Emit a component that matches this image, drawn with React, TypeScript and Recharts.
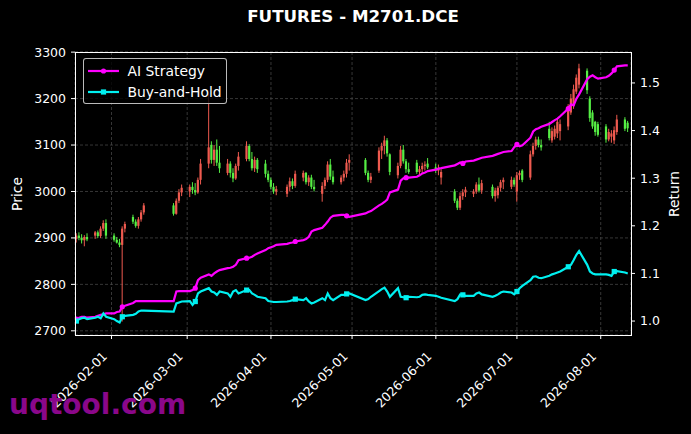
import {
  Bar,
  CartesianGrid,
  ComposedChart,
  Legend,
  Line,
  XAxis,
  YAxis,
} from 'recharts';

// trading days shown on the chart (2026)
const DATES = [
  '01-19', '01-20', '01-21', '01-22', '01-23', '01-26', '01-27', '01-28', '01-29', '01-30',
  '02-02', '02-03', '02-04', '02-05', '02-06', '02-09', '02-10', '02-11', '02-12', '02-13',
  '02-24', '02-25', '02-26', '02-27',
  '03-02', '03-03', '03-04', '03-05', '03-06', '03-09', '03-10', '03-11', '03-12', '03-13',
  '03-16', '03-17', '03-18', '03-19', '03-20', '03-23', '03-24', '03-25', '03-26', '03-27',
  '03-30', '03-31',
  '04-01', '04-02', '04-03', '04-07', '04-08', '04-09', '04-10', '04-13', '04-14', '04-15',
  '04-16', '04-17', '04-20', '04-21', '04-22', '04-23', '04-24', '04-27', '04-28', '04-29', '04-30',
  '05-06', '05-07', '05-08', '05-11', '05-12', '05-13', '05-14', '05-15', '05-18', '05-19',
  '05-20', '05-21', '05-22', '05-25', '05-26', '05-27', '05-28', '05-29',
  '06-01', '06-02', '06-03', '06-08', '06-09', '06-10', '06-11', '06-12', '06-15', '06-16',
  '06-17', '06-18', '06-22', '06-23', '06-24', '06-25', '06-26', '06-29', '06-30',
  '07-01', '07-02', '07-03', '07-06', '07-07', '07-08', '07-09', '07-10', '07-13', '07-14',
  '07-15', '07-16', '07-17', '07-20', '07-21', '07-22', '07-23', '07-24', '07-27', '07-28',
  '07-29', '07-30', '07-31',
  '08-03', '08-04', '08-05', '08-06', '08-07', '08-10', '08-11',
];

const OPEN = [
  2898, 2905, 2900, 2895, 2902, 2905, 2912, 2904, 2920, 2932,
  2905, 2896, 2890, 2885, 2920, 2945, 2935, 2926, 2940, 2955,
  2970, 2952, 2980, 2998,
  3000, 3010, 3003, 2998, 3025, 3060, 3100, 3068, 3090, 3062,
  3040, 3060, 3040, 3028, 3055, 3070, 3098, 3070, 3050, 3068,
  3060, 3038,
  3025, 3010, 3000, 2995, 3010, 3022, 3012, 3030, 3040, 3020,
  3030, 3010, 2995, 3012, 3025, 3058, 3032, 3020, 3030, 3038, 3062,
  3068, 3040, 3025, 3045, 3088, 3098, 3110, 3080, 3035, 3055,
  3090, 3065, 3048, 3062, 3042, 3048, 3055, 3060,
  3052, 3045, 3030, 3000, 2980, 2965, 2990, 2998, 2995, 3000,
  3015, 3002, 3010, 2990, 2992, 3008, 3020, 3010, 3025,
  3000, 3035, 3045, 3030, 3080, 3098, 3112, 3100, 3135, 3110,
  3118, 3125, 3130, 3140, 3170, 3185, 3215, 3230, 3260, 3200,
  3170, 3150, 3145,
  3140, 3112, 3118, 3110, 3128, 3155, 3148,
];

const HIGH = [
  2910, 2912, 2908, 2906, 2910, 2915, 2916, 2925, 2938, 2940,
  2910, 2902, 2898, 2925, 2935, 2950, 2940, 2945, 2960, 2975,
  2975, 2985, 3005, 3015,
  3015, 3020, 3018, 3030, 3070, 3210, 3108, 3100, 3112, 3098,
  3070, 3065, 3050, 3060, 3085, 3108, 3102, 3085, 3075, 3072,
  3068, 3045,
  3030, 3018, 3012, 3015, 3030, 3028, 3045, 3045, 3042, 3035,
  3036, 3025, 3020, 3030, 3065, 3070, 3045, 3035, 3045, 3070, 3080,
  3072, 3045, 3040, 3095, 3105, 3120, 3115, 3082, 3062, 3098,
  3100, 3070, 3062, 3068, 3055, 3062, 3065, 3072,
  3060, 3058, 3048, 3005, 2985, 2998, 3005, 3010, 3005, 3020,
  3030, 3025, 3015, 3008, 3012, 3025, 3030, 3032, 3030,
  3042, 3045, 3048, 3088, 3105, 3118, 3118, 3112, 3150, 3138,
  3142, 3158, 3155, 3188, 3210, 3230, 3252, 3275, 3265, 3205,
  3175, 3152, 3150,
  3145, 3135, 3132, 3140, 3165, 3160, 3152,
];

const LOW = [
  2890, 2895, 2888, 2882, 2893, 2898, 2900, 2900, 2915, 2898,
  2892, 2888, 2880, 2720, 2912, 2930, 2922, 2920, 2935, 2950,
  2948, 2950, 2975, 2990,
  2988, 2995, 2992, 2995, 3015, 3050, 3060, 3055, 3055, 3040,
  3035, 3030, 3020, 3025, 3045, 3065, 3065, 3045, 3042, 3040,
  3030, 3020,
  3005, 2995, 2992, 2988, 3000, 3005, 3008, 3022, 3015, 3012,
  3005, 3000, 2978, 3005, 3020, 3025, 3015, 3015, 3022, 3030, 3045,
  3035, 3020, 3018, 3040, 3070, 3080, 3075, 3035, 3028, 3050,
  3060, 3040, 3038, 3038, 3035, 3040, 3045, 3048,
  3040, 3035, 3015, 2975, 2960, 2960, 2982, 2988, 2988, 2995,
  2998, 2995, 2985, 2978, 2985, 3000, 3005, 3005, 3010,
  2978, 3025, 3020, 3025, 3075, 3090, 3095, 3088, 3110, 3105,
  3112, 3115, 3110, 3132, 3165, 3178, 3210, 3222, 3210, 3150,
  3135, 3120, 3118,
  3105, 3108, 3105, 3102, 3122, 3130, 3128,
];

const CLOSE = [
  2905, 2900, 2895, 2902, 2897, 2912, 2904, 2920, 2932, 2905,
  2896, 2890, 2885, 2920, 2930, 2935, 2926, 2940, 2955, 2970,
  2952, 2980, 2998, 3008,
  3010, 3003, 2998, 3025, 3060, 3095, 3068, 3090, 3062, 3050,
  3060, 3040, 3028, 3055, 3075, 3098, 3070, 3050, 3068, 3048,
  3038, 3025,
  3010, 3000, 3005, 3010, 3022, 3012, 3038, 3040, 3020, 3030,
  3010, 3005, 3012, 3025, 3058, 3032, 3020, 3030, 3038, 3062, 3068,
  3040, 3025, 3032, 3088, 3098, 3110, 3082, 3042, 3055, 3090,
  3065, 3048, 3042, 3042, 3048, 3055, 3058, 3052,
  3045, 3050, 3042, 2980, 2965, 2990, 2998, 3004, 3000, 3015,
  3002, 3018, 2990, 3002, 3008, 3020, 3025, 3025, 3015,
  3035, 3040, 3025, 3080, 3098, 3112, 3100, 3095, 3115, 3130,
  3135, 3150, 3145, 3180, 3200, 3220, 3245, 3265, 3218, 3158,
  3140, 3128, 3122,
  3112, 3128, 3125, 3132, 3155, 3135, 3136,
];

const AI_STRATEGY = [
  1.004, 1.007, 1.009, 1.009, 1.007, 1.009, 1.011, 1.013, 1.014, 1.016,
  1.016, 1.019, 1.020, 1.030, 1.032, 1.038, 1.042, 1.042, 1.042, 1.042,
  1.042, 1.062, 1.063, 1.063,
  1.063, 1.065, 1.069, 1.086, 1.091, 1.098, 1.095, 1.100, 1.104, 1.107,
  1.111, 1.112, 1.114, 1.118, 1.128, 1.132, 1.133, 1.135, 1.139, 1.142,
  1.149, 1.153,
  1.155, 1.157, 1.160, 1.162, 1.164, 1.165, 1.167, 1.170, 1.172, 1.177,
  1.188, 1.191, 1.196, 1.202, 1.209, 1.217, 1.221, 1.223, 1.223, 1.221, 1.219,
  1.226, 1.229, 1.231, 1.243, 1.246, 1.250, 1.255, 1.270, 1.276, 1.295,
  1.300, 1.301, 1.301, 1.303, 1.306, 1.310, 1.312, 1.315,
  1.318, 1.320, 1.321, 1.327, 1.330, 1.333, 1.331, 1.335, 1.337, 1.339,
  1.341, 1.343, 1.347, 1.349, 1.351, 1.353, 1.355, 1.357, 1.365,
  1.371, 1.367, 1.369, 1.385, 1.398, 1.403, 1.405, 1.408, 1.414, 1.418,
  1.422, 1.425, 1.430, 1.446, 1.455, 1.453, 1.467, 1.476, 1.508, 1.513,
  1.516, 1.512, 1.509,
  1.512, 1.515, 1.520, 1.527, 1.535, 1.537, 1.537,
];

const BUY_AND_HOLD = [
  1.000, 1.004, 1.006, 1.007, 1.004, 1.007, 1.009, 1.006, 1.016, 1.009,
  1.004, 1.000, 0.997, 1.009, 1.011, 1.013, 1.015, 1.020, 1.022, 1.022,
  1.020, 1.037, 1.039, 1.041,
  1.042, 1.034, 1.041, 1.058, 1.062, 1.069, 1.062, 1.060, 1.055, 1.062,
  1.058, 1.051, 1.062, 1.065, 1.058, 1.065, 1.065, 1.058, 1.055, 1.051,
  1.048, 1.042,
  1.041, 1.040, 1.040, 1.041, 1.042, 1.044, 1.046, 1.044, 1.048, 1.041,
  1.037, 1.039, 1.048, 1.044, 1.058, 1.048, 1.044, 1.055, 1.055, 1.057, 1.058,
  1.044, 1.046, 1.051, 1.063, 1.067, 1.070, 1.062, 1.051, 1.069, 1.051,
  1.050, 1.049, 1.051, 1.050, 1.051, 1.055, 1.056, 1.055,
  1.053, 1.051, 1.049, 1.042, 1.046, 1.056, 1.055, 1.053, 1.053, 1.058,
  1.060, 1.056, 1.051, 1.053, 1.056, 1.060, 1.062, 1.060, 1.056,
  1.062, 1.069, 1.074, 1.086, 1.093, 1.094, 1.091, 1.090, 1.095, 1.098,
  1.100, 1.102, 1.104, 1.114, 1.118, 1.128, 1.139, 1.147, 1.118, 1.104,
  1.100, 1.098, 1.098,
  1.098, 1.097, 1.095, 1.104, 1.105, 1.102, 1.100,
];

const X_TICK_LABELS = ['2026-02-01', '2026-03-01', '2026-04-01', '2026-05-01', '2026-06-01', '2026-07-01', '2026-08-01'];
const PRICE_TICKS = [2700, 2800, 2900, 3000, 3100, 3200, 3300];
const RETURN_TICKS = [1.0, 1.1, 1.2, 1.3, 1.4, 1.5];

const RED = '#ee5a4f';
const GREEN = '#55ee44';
const MAGENTA = '#ff00ff';
const CYAN = '#00f0f0';
const FONT = '"DejaVu Sans", Verdana, sans-serif';
const MARK_EVERY = 13;

// days since 2026-01-01, used as the numeric x value
const dayOfYear = (iso: string) =>
  (Date.parse(`${iso}T00:00:00Z`) - Date.parse('2026-01-01T00:00:00Z')) / 86400000;

const data = DATES.map((d, i) => ({
  t: dayOfYear(`2026-${d}`),
  open: OPEN[i],
  high: HIGH[i],
  low: LOW[i],
  close: CLOSE[i],
  ai: AI_STRATEGY[i],
  bh: BUY_AND_HOLD[i],
}));

const xTicks = X_TICK_LABELS.map(dayOfYear);
const tickLabelOf = (v: number) => X_TICK_LABELS[xTicks.indexOf(v)] ?? '';

function Candle(props: any) {
  const { x, y, width, height, payload } = props;
  if (x == null || payload == null) return null;
  const { open, high, low, close } = payload;
  const top = Math.min(y, y + height);
  const h = Math.abs(height);
  const cx = x + width / 2;
  const span = high - low || 1;
  const py = (v: number) => top + ((high - v) / span) * h;
  const color = close >= open ? RED : GREEN;
  const b0 = py(Math.max(open, close));
  const b1 = py(Math.min(open, close));
  return (
    <g>
      <line x1={cx} x2={cx} y1={top} y2={top + h} stroke={color} strokeWidth={1} />
      <rect x={cx - 1.1} y={b0} width={2.2} height={Math.max(b1 - b0, 0.8)} fill={color} />
    </g>
  );
}

const makeDot = (shape: 'circle' | 'square', color: string) => (p: any) => {
  const { cx, cy, index } = p;
  if (cx == null || cy == null || index % MARK_EVERY !== 0) return <g key={`d-${index}`} />;
  if (shape === 'circle') return <circle key={`d-${index}`} cx={cx} cy={cy} r={2.6} fill={color} />;
  return <rect key={`d-${index}`} x={cx - 2.6} y={cy - 2.6} width={5.2} height={5.2} fill={color} />;
};

function DateTick({ x, y, payload }: any) {
  return (
    <g transform={`translate(${x - 3.5},${y + 16})`}>
      <text textAnchor="end" transform="rotate(-45)" fill="#fff" fontSize={12.5} fontFamily={FONT}>
        {tickLabelOf(payload.value)}
      </text>
    </g>
  );
}

function LegendBox() {
  const items = [
    { label: 'AI Strategy', color: MAGENTA, shape: 'circle' },
    { label: 'Buy-and-Hold', color: CYAN, shape: 'square' },
  ];
  return (
    <div
      style={{
        width: 144,
        height: 46,
        boxSizing: 'border-box',
        border: '1px solid rgba(220,220,220,0.85)',
        borderRadius: 3,
        background: 'rgba(0,0,0,0.8)',
        padding: '2px 0 0 4px',
      }}
    >
      {items.map((it) => (
        <div key={it.label} style={{ display: 'flex', alignItems: 'center', height: 20.5 }}>
          <svg width={36} height={10}>
            <line x1={0} x2={31} y1={5} y2={5} stroke={it.color} strokeWidth={2.2} />
            {it.shape === 'circle' ? (
              <circle cx={15.5} cy={5} r={2.6} fill={it.color} />
            ) : (
              <rect x={12.9} y={2.4} width={5.2} height={5.2} fill={it.color} />
            )}
          </svg>
          <span style={{ color: '#fff', fontSize: 13.9, fontFamily: FONT, marginLeft: 4 }}>{it.label}</span>
        </div>
      ))}
    </div>
  );
}

export default function App() {
  return (
    <div style={{ position: 'fixed', left: 0, top: 0, width: 691, height: 434, background: '#000', overflow: 'hidden' }}>
      <div
        style={{
          position: 'absolute',
          left: 75,
          width: 556,
          top: 6,
          textAlign: 'center',
          color: '#fff',
          fontFamily: FONT,
          fontWeight: 'bold',
          fontSize: 16.7,
        }}
      >
        FUTURES - M2701.DCE
      </div>

      <ComposedChart width={691} height={434} data={data} margin={{ top: 52, right: 0, bottom: 0, left: 0 }}>
        <CartesianGrid yAxisId="left" stroke="#4d4d4d" strokeDasharray="3 2" strokeWidth={0.7} />
        <XAxis
          dataKey="t"
          type="number"
          domain={[17.5, 223.2]}
          allowDataOverflow
          ticks={xTicks}
          height={99}
          axisLine={false}
          tickLine={{ stroke: '#fff' }}
          tickSize={4}
          tick={<DateTick />}
          interval={0}
        />
        <YAxis
          yAxisId="left"
          domain={[2691, 3300.3]}
          allowDataOverflow
          ticks={PRICE_TICKS}
          width={75}
          axisLine={false}
          tickLine={{ stroke: '#fff' }}
          tickSize={4}
          tickMargin={5}
          tick={{ fill: '#fff', fontSize: 12.5, fontFamily: FONT }}
          interval={0}
        />
        <YAxis
          yAxisId="right"
          orientation="right"
          domain={[0.9707, 1.565]}
          allowDataOverflow
          ticks={RETURN_TICKS}
          tickFormatter={(v: number) => v.toFixed(1)}
          width={60}
          axisLine={false}
          tickLine={{ stroke: '#fff' }}
          tickSize={4}
          tickMargin={5}
          tick={{ fill: '#fff', fontSize: 12.5, fontFamily: FONT }}
          interval={0}
        />
        <Bar
          yAxisId="left"
          dataKey={(d: any) => [d.low, d.high]}
          barSize={3}
          shape={<Candle />}
          isAnimationActive={false}
        />
        <Line
          yAxisId="right"
          dataKey="ai"
          stroke={MAGENTA}
          strokeWidth={2.2}
          dot={makeDot('circle', MAGENTA)}
          activeDot={false}
          isAnimationActive={false}
        />
        <Line
          yAxisId="right"
          dataKey="bh"
          stroke={CYAN}
          strokeWidth={2.2}
          dot={makeDot('square', CYAN)}
          activeDot={false}
          isAnimationActive={false}
        />
        {/* horizontal + middle + center: the legend takes no room from the plot */}
        <Legend
          layout="horizontal"
          verticalAlign="middle"
          align="center"
          content={<LegendBox />}
          wrapperStyle={{ position: 'absolute', left: 82.5, top: 58, width: 144, height: 46 }}
        />
      </ComposedChart>

      {/* plot frame */}
      <div
        style={{
          position: 'absolute',
          left: 74.5,
          top: 51.5,
          width: 557,
          height: 284,
          boxSizing: 'border-box',
          border: '1.1px solid #fff',
          pointerEvents: 'none',
        }}
      />

      <div
        style={{
          position: 'absolute',
          left: 17,
          top: 193.5,
          transform: 'translate(-50%, -50%) rotate(-90deg)',
          color: '#fff',
          fontFamily: FONT,
          fontSize: 13.9,
          whiteSpace: 'nowrap',
        }}
      >
        Price
      </div>
      <div
        style={{
          position: 'absolute',
          left: 674,
          top: 193.5,
          transform: 'translate(-50%, -50%) rotate(-90deg)',
          color: '#fff',
          fontFamily: FONT,
          fontSize: 13.9,
          whiteSpace: 'nowrap',
        }}
      >
        Return
      </div>

      <div
        style={{
          position: 'absolute',
          left: 9,
          top: 388,
          color: '#8a078a',
          fontFamily: FONT,
          fontWeight: 'bold',
          fontSize: 28,
          whiteSpace: 'nowrap',
        }}
      >
        uqtool.com
      </div>
    </div>
  );
}
